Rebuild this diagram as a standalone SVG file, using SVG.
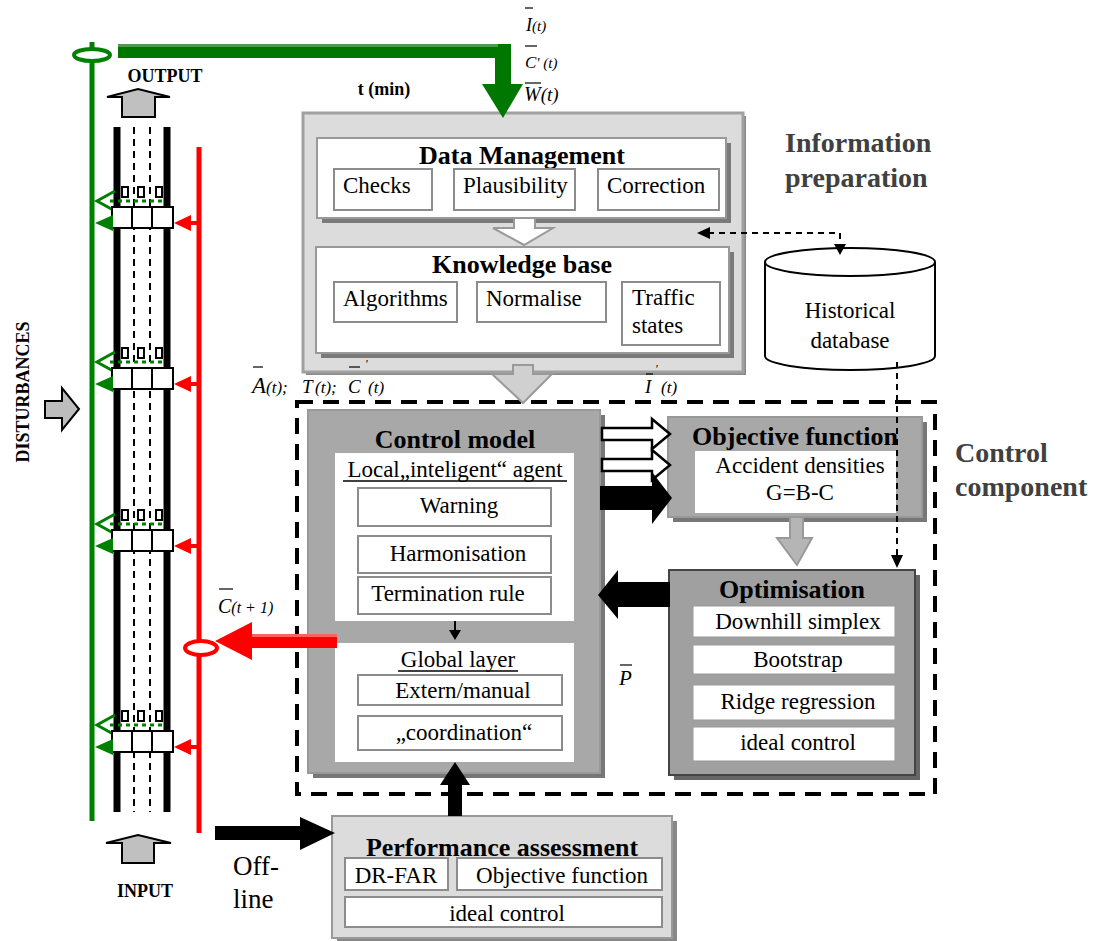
<svg xmlns="http://www.w3.org/2000/svg" width="1098" height="941" viewBox="0 0 1098 941">
<defs>
<style>
text{font-family:"Liberation Serif","DejaVu Serif",serif;fill:#000}
.h{font-weight:bold;font-size:26px;text-anchor:middle}
.s{font-size:23px}
.c{text-anchor:middle}
.m{font-style:italic}
.lbl{font-weight:bold;font-size:28px;fill:#404040}
.cap{font-weight:bold;font-size:18px;text-anchor:middle}
.sub{fill:#fff;stroke:#8c8c8c;stroke-width:2}
.shadow{fill:#7a7a7a}
.road{stroke:#000;stroke-width:7}
.lane{stroke:#000;stroke-width:2;stroke-dasharray:7,5}
.det{fill:#fff;stroke:#000;stroke-width:2}
.gdot{stroke:#008000;stroke-width:3;stroke-dasharray:4,4}
.bar{stroke:#000;stroke-width:1.2}
.dash{stroke:#000;stroke-width:2;stroke-dasharray:6,5;fill:none}
</style>
<!-- one detector station, drawn relative to the top of its detector box -->
<g id="station">
  <rect x="122" y="-20" width="6" height="10" class="det" stroke-width="1.5"/>
  <rect x="138" y="-20" width="6" height="10" class="det" stroke-width="1.5"/>
  <rect x="156" y="-20" width="6" height="10" class="det" stroke-width="1.5"/>
  <line x1="110" y1="-6" x2="165" y2="-6" class="gdot"/>
  <polyline points="115,-16 97,-6 115,4" fill="none" stroke="#008000" stroke-width="3"/>
  <rect x="112" y="0" width="61" height="21" class="det"/>
  <line x1="132" y1="0" x2="132" y2="21" stroke="#000" stroke-width="2"/>
  <line x1="152" y1="0" x2="152" y2="21" stroke="#000" stroke-width="2"/>
  <polygon points="95,16 113,8 113,24" fill="#008000"/>
  <polygon points="174,16 191,8 191,24" fill="#ff0000"/>
  <line x1="189" y1="16" x2="199" y2="16" stroke="#ff0000" stroke-width="4"/>
</g>
</defs>

<rect width="1098" height="941" fill="#fff"/>

<!-- motorway section with detector stations -->
<g id="road">
  <line x1="92" y1="42" x2="92" y2="821" stroke="#008000" stroke-width="5"/>
  <line x1="199" y1="147" x2="199" y2="833" stroke="#ff0000" stroke-width="5"/>
  <line x1="117" y1="127" x2="117" y2="812" class="road"/>
  <line x1="167" y1="127" x2="167" y2="812" class="road"/>
  <line x1="134" y1="127" x2="134" y2="812" class="lane"/>
  <line x1="150" y1="127" x2="150" y2="812" class="lane"/>
  <use href="#station" y="207"/>
  <use href="#station" y="368"/>
  <use href="#station" y="530"/>
  <use href="#station" y="731"/>
  <ellipse cx="92" cy="55" rx="18" ry="6" fill="#fff" stroke="#008000" stroke-width="4"/>
  <ellipse cx="201" cy="648" rx="16" ry="7" fill="#fff" stroke="#ff0000" stroke-width="4"/>
  <!-- output / input / disturbance arrows -->
  <polygon points="122,117 122,97 107,97 138,89 170,97 155,97 155,117" fill="#c0c0c0" stroke="#000" stroke-width="2"/>
  <polygon points="122,863 122,843 106,843 138,835 171,843 154,843 154,863" fill="#c0c0c0" stroke="#000" stroke-width="2"/>
  <polygon points="45,401 62,401 62,388 79,409 62,430 62,418 45,418" fill="#bdbdbd" stroke="#000" stroke-width="2"/>
  <text x="165" y="82" class="cap">OUTPUT</text>
  <text x="145" y="897" class="cap">INPUT</text>
  <text x="29" y="392" class="cap" font-size="20" transform="rotate(-90 29 392)">DISTURBANCES</text>
</g>

<!-- signal labels -->
<g id="labels" class="m">
  <line x1="525" y1="8" x2="533" y2="8" class="bar"/>
  <text x="526" y="31" font-size="18">I<tspan font-size="15">(t)</tspan></text>
  <line x1="525" y1="46" x2="537" y2="46" class="bar"/>
  <text x="525" y="68" font-size="17">C<tspan font-size="15">' (t)</tspan></text>
  <line x1="525" y1="83" x2="541" y2="83" class="bar"/>
  <text x="524" y="101" font-size="20">W<tspan font-size="19">(t)</tspan></text>

  <line x1="219" y1="589" x2="233" y2="589" class="bar"/>
  <text x="218" y="613" font-size="20">C<tspan font-size="16">(t + 1)</tspan></text>
  <line x1="620" y1="665" x2="632" y2="665" class="bar"/>
  <text x="619" y="685" font-size="21">P</text>
</g>

<text x="384" y="95" class="cap">t (min)</text>
<text x="785" y="152" class="lbl">Information</text>
<text x="785" y="187" class="lbl">preparation</text>
<text x="955" y="462" class="lbl">Control</text>
<text x="955" y="496" class="lbl">component</text>
<text x="233" y="875" font-size="27">Off-</text>
<text x="233" y="908" font-size="27">line</text>

<!-- information preparation -->
<g id="info-preparation">
  <rect x="306" y="116" width="440" height="259" fill="#8a8a8a"/>
  <rect x="303" y="113" width="440" height="259" fill="#dcdcdc" stroke="#a0a0a0" stroke-width="3"/>
  <g id="data-management">
    <rect x="322" y="143" width="409" height="80" class="shadow"/>
    <rect x="317" y="138" width="409" height="80" fill="#fff" stroke="#999" stroke-width="2"/>
    <text x="522" y="164" class="h">Data Management</text>
    <rect x="334" y="169" width="98" height="41" class="sub"/>
    <text x="343" y="193" class="s">Checks</text>
    <rect x="454" y="169" width="121" height="41" class="sub"/>
    <text x="463" y="193" class="s">Plausibility</text>
    <rect x="598" y="169" width="121" height="41" class="sub"/>
    <text x="607" y="193" class="s">Correction</text>
  </g>
  <g id="knowledge-base">
    <rect x="321" y="252" width="413" height="106" class="shadow"/>
    <rect x="316" y="247" width="413" height="106" fill="#fff" stroke="#999" stroke-width="2"/>
    <text x="522" y="273" class="h">Knowledge base</text>
    <rect x="334" y="282" width="123" height="40" class="sub"/>
    <text x="343" y="306" class="s">Algorithms</text>
    <rect x="477" y="282" width="129" height="40" class="sub"/>
    <text x="486" y="306" class="s">Normalise</text>
    <rect x="622" y="282" width="98" height="63" class="sub"/>
    <text x="632" y="305" class="s">Traffic</text>
    <text x="632" y="333" class="s">states</text>
  </g>
</g>

<!-- labels on the lower edge of the information block -->
<g id="block-labels" class="m">
  <line x1="253" y1="367" x2="263" y2="367" class="bar"/>
  <line x1="349" y1="367" x2="360" y2="367" class="bar"/>
  <text x="365" y="368" font-size="12">'</text>
  <text y="393"><tspan x="252" font-size="23">A</tspan><tspan x="266" font-size="17">(t);</tspan><tspan x="302" font-size="19">T</tspan><tspan x="315" font-size="17">(t);</tspan><tspan x="348" font-size="19">C</tspan><tspan x="368" font-size="17">(t)</tspan></text>
  <line x1="646" y1="374" x2="653" y2="374" class="bar"/>
  <text x="655" y="373" font-size="12">'</text>
  <text y="393"><tspan x="645" font-size="19">I</tspan><tspan x="661" font-size="17">(t)</tspan></text>
</g>

<!-- historical database -->
<g id="historical-database">
  <path d="M765,262 L765,356 A85,14 0 0 0 935,356 L935,262" fill="#fff" stroke="#000" stroke-width="2"/>
  <ellipse cx="850" cy="262" rx="85" ry="14" fill="#fff" stroke="#000" stroke-width="2"/>
  <text x="850" y="318" class="s c">Historical</text>
  <text x="850" y="348" class="s c">database</text>
</g>

<!-- control component frame -->
<rect id="control-component" x="297" y="402" width="638" height="392" fill="none" stroke="#000" stroke-width="4" stroke-dasharray="16,10"/>

<!-- control model -->
<g id="control-model">
  <rect x="313" y="415" width="292" height="363" fill="#777"/>
  <rect x="308" y="410" width="292" height="363" fill="#a8a8a8" stroke="#999" stroke-width="2"/>
  <text x="455" y="448" class="h">Control model</text>
  <rect x="335" y="453" width="239" height="168" fill="#fff"/>
  <text x="455" y="477" class="s c">Local„inteligent“ agent</text>
  <line x1="343" y1="481" x2="567" y2="481" stroke="#000" stroke-width="1.5"/>
  <rect x="358" y="488" width="193" height="38" class="sub"/>
  <text x="459" y="513" class="s c">Warning</text>
  <rect x="358" y="536" width="193" height="37" class="sub"/>
  <text x="458" y="561" class="s c">Harmonisation</text>
  <rect x="358" y="577" width="193" height="37" class="sub"/>
  <text x="448" y="601" class="s c">Termination rule</text>
  <line x1="455" y1="621" x2="455" y2="632" stroke="#000" stroke-width="2"/>
  <polygon points="449,630 461,630 455,640" fill="#000"/>
  <rect x="335" y="643" width="239" height="119" fill="#fff"/>
  <text x="458" y="667" class="s c">Global layer</text>
  <line x1="398" y1="671" x2="518" y2="671" stroke="#000" stroke-width="1.5"/>
  <rect x="358" y="675" width="204" height="30" class="sub"/>
  <text x="463" y="698" class="s c">Extern/manual</text>
  <rect x="358" y="716" width="204" height="34" class="sub"/>
  <text x="464" y="740" class="s c">„coordination“</text>
</g>

<!-- objective function -->
<g id="objective-function">
  <rect x="673" y="422" width="254" height="100" fill="#777"/>
  <rect x="668" y="417" width="254" height="100" fill="#a8a8a8" stroke="#999" stroke-width="2"/>
  <text x="795" y="445" class="h">Objective function</text>
  <rect x="695" y="451" width="201" height="62" fill="#fff"/>
  <text x="800" y="473" class="s c">Accident densities</text>
  <text x="800" y="500" class="s c">G=B-C</text>
</g>

<!-- optimisation -->
<g id="optimisation">
  <rect x="674" y="575" width="246" height="205" fill="#666"/>
  <rect x="669" y="570" width="246" height="205" fill="#a0a0a0" stroke="#444" stroke-width="2"/>
  <text x="792" y="598" class="h">Optimisation</text>
  <rect x="693" y="606" width="202" height="31" fill="#fff" stroke="#999"/>
  <text x="798" y="629" class="s c">Downhill simplex</text>
  <rect x="693" y="645" width="202" height="29" fill="#fff" stroke="#999"/>
  <text x="798" y="667" class="s c">Bootstrap</text>
  <rect x="693" y="685" width="202" height="35" fill="#fff" stroke="#999"/>
  <text x="798" y="709" class="s c">Ridge regression</text>
  <rect x="693" y="727" width="202" height="34" fill="#fff" stroke="#999"/>
  <text x="798" y="750" class="s c">ideal control</text>
</g>

<!-- performance assessment -->
<g id="performance-assessment">
  <rect x="337" y="821" width="340" height="122" fill="#888"/>
  <rect x="332" y="816" width="340" height="122" fill="#dcdcdc" stroke="#999" stroke-width="2"/>
  <text x="502" y="856" class="h">Performance assessment</text>
  <rect x="345" y="858" width="103" height="32" class="sub"/>
  <text x="396" y="883" class="s c">DR-FAR</text>
  <rect x="457" y="858" width="205" height="32" class="sub"/>
  <text x="562" y="883" class="s c">Objective function</text>
  <rect x="345" y="897" width="317" height="30" class="sub"/>
  <text x="507" y="921" class="s c">ideal control</text>
</g>

<!-- connectors -->
<g id="connectors">
  <!-- measured data to information preparation -->
  <polygon points="118,44 511,44 511,84 523,84 503,118 482,84 495,84 495,58 118,58" fill="#007800"/>
  <rect x="118" y="44" width="380" height="3" fill="#4f9a4f"/>
  <!-- control output back to the road -->
  <polygon points="337,634 252,634 252,622 215,641 252,660 252,648 337,648" fill="#ff0000"/>
  <rect x="252" y="634" width="85" height="3" fill="#ff6060"/>
  <!-- data management to knowledge base -->
  <polygon points="514,218 535,218 535,228 553,228 524,245 493,228 514,228" fill="#fff" stroke="#999" stroke-width="2"/>
  <!-- information preparation to control component -->
  <polygon points="513,365 533,365 533,374 552,374 523,403 492,374 513,374" fill="#d0d0d0" stroke="#999" stroke-width="2"/>
  <!-- control model to objective function -->
  <polygon points="602,428 652,428 652,419 670,434 652,449 652,440 602,440" fill="#fff" stroke="#000" stroke-width="2.5"/>
  <polygon points="602,459 652,459 652,450 670,465 652,480 652,471 602,471" fill="#fff" stroke="#000" stroke-width="2.5"/>
  <polygon points="600,486 652,486 652,472 672,498 652,524 652,510 600,510" fill="#000"/>
  <!-- objective function to optimisation -->
  <polygon points="790,517 803,517 803,538 812,538 797,565 777,538 790,538" fill="#b5b5b5" stroke="#999" stroke-width="2"/>
  <!-- optimisation to control model -->
  <polygon points="670,582 618,582 618,570 598,595 618,619 618,607 670,607" fill="#000"/>
  <!-- performance assessment to control model -->
  <polygon points="448,816 448,785 440,785 455,762 470,785 462,785 462,816" fill="#000"/>
  <!-- off-line evaluation -->
  <polygon points="215,826 300,826 300,817 335,833 300,850 300,840 215,840" fill="#000"/>
  <!-- historical database links -->
  <polyline points="708,233 840,233 840,246" class="dash"/>
  <polygon points="697,233 710,227 710,239" fill="#000"/>
  <polygon points="840,255 834,244 846,244" fill="#000"/>
  <line x1="897" y1="362" x2="897" y2="556" class="dash"/>
  <polygon points="897,568 891,555 903,555" fill="#000"/>
</g>
</svg>
